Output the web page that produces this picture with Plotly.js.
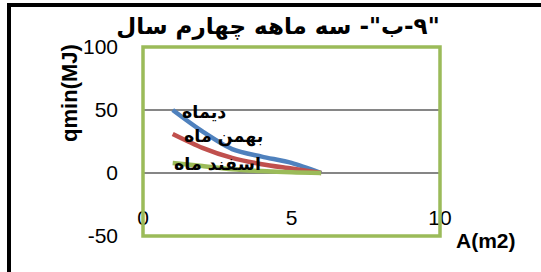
<!DOCTYPE html>
<html><head><meta charset="utf-8">
<script src="https://cdn.plot.ly/plotly-3.0.1.min.js"></script>
<style>html,body{margin:0;padding:0;background:#fff;}#chart{width:541px;height:272px;}</style>
</head><body><div id="chart"></div>
<script>
const areas = [1, 2, 3, 4, 5, 6];
const dey = [50, 33, 19, 13, 8, 0];
const bahman = [31, 20, 12, 7, 3.5, 0];
const esfand = [8, 5.5, 3, 1.5, 0.5, 0];
const seriesNames = ["دیماه", "بهمن ماه", "اسفند ماه"];
const seriesColors = ["#4F81BD", "#C0504D", "#9BBB59"];
const labelX = [2.05, 2.72, 2.5];
const labelY = [48.5, 29, 7.5];
const yTickVals = [-50, 0, 50, 100];
const yTickText = ["-50", "0", "50", "100"];
const xTickVals = [0, 5, 10];
const xTickText = ["0", "5", "10"];
const titleText = "\u202B\"۹-ب\"- سه ماهه چهارم سال\u202C";
const xTitle = "A(m2)";
const yTitle = "qmin(MJ)";

// plot-area geometry in pixels
const L = 143, R = 440, T = 47, B = 236.5, W = 541, H = 272;
const px2dx = p => (p - L) / (R - L);
const px2dy = p => (B - p) / (B - T);

const series = [dey, bahman, esfand];
const traces = series.map((ys, i) => ({
  x: areas, y: ys, type: "scatter", mode: "lines",
  name: seriesNames[i],
  line: {color: seriesColors[i], width: 4.5, shape: "spline", smoothing: 0.8},
  hoverinfo: "skip"
}));

const annotations = seriesNames.map((n, i) => ({
  x: labelX[i], y: labelY[i], xref: "x", yref: "y", text: "<b>" + n + "</b>", showarrow: false,
  font: {family: "DejaVu Sans", size: 17.5, color: "#000"},
  xanchor: "center", yanchor: "middle"
}));
annotations.push({
  x: px2dx(486), y: px2dy(241), xref: "paper", yref: "paper", text: "<b>" + xTitle + "</b>", showarrow: false,
  font: {family: "Liberation Sans", size: 21, color: "#000"}, xanchor: "center", yanchor: "middle"
});
annotations.push({
  x: px2dx(70), y: px2dy(93), xref: "paper", yref: "paper", text: "<b>" + yTitle + "</b>", showarrow: false,
  textangle: -90, font: {family: "Liberation Sans", size: 22, color: "#000"}, xanchor: "center", yanchor: "middle"
});

const layout = {
  width: W, height: H,
  margin: {l: L, r: W - R, t: T, b: H - B},
  paper_bgcolor: "#fff", plot_bgcolor: "#fff",
  showlegend: false,
  title: {text: "<b>" + titleText + "</b>", x: 278/W, xref: "container", xanchor: "center",
          y: 1 - 26/H, yref: "container", yanchor: "middle",
          font: {family: "DejaVu Sans", size: 23, color: "#000"}},
  xaxis: {range: [0, 10], tickmode: "array", tickvals: xTickVals, ticktext: xTickText,
          showgrid: false, zeroline: false,
          showline: false, anchor: "free", position: px2dy(203),
          ticks: "", ticklabelstandoff: 0,
          tickfont: {family: "Liberation Sans", size: 21, color: "#000"}},
  yaxis: {range: [-50, 100], tickmode: "array", tickvals: yTickVals, ticktext: yTickText,
          showgrid: true, gridcolor: "#868686", gridwidth: 1.5,
          zeroline: true, zerolinecolor: "#868686", zerolinewidth: 1.5,
          showline: false, ticks: "", ticklabelstandoff: 24,
          tickfont: {family: "Liberation Sans", size: 21, color: "#000"}},
  annotations: annotations,
  shapes: [
    {type: "rect", xref: "paper", yref: "paper", x0: 0, x1: 1, y0: 0, y1: 1,
     line: {color: "#9BBB59", width: 3.5}, layer: "above"},
    {type: "line", xref: "paper", yref: "paper", x0: px2dx(9), x1: px2dx(9), y0: -1, y1: px2dy(5),
     line: {color: "#000", width: 4}},
    {type: "line", xref: "paper", yref: "paper", x0: px2dx(7), x1: 1.5, y0: px2dy(5), y1: px2dy(5),
     line: {color: "#000", width: 4}}
  ]
};
Plotly.newPlot("chart", traces, layout, {staticPlot: true, displayModeBar: false});
</script></body></html>
